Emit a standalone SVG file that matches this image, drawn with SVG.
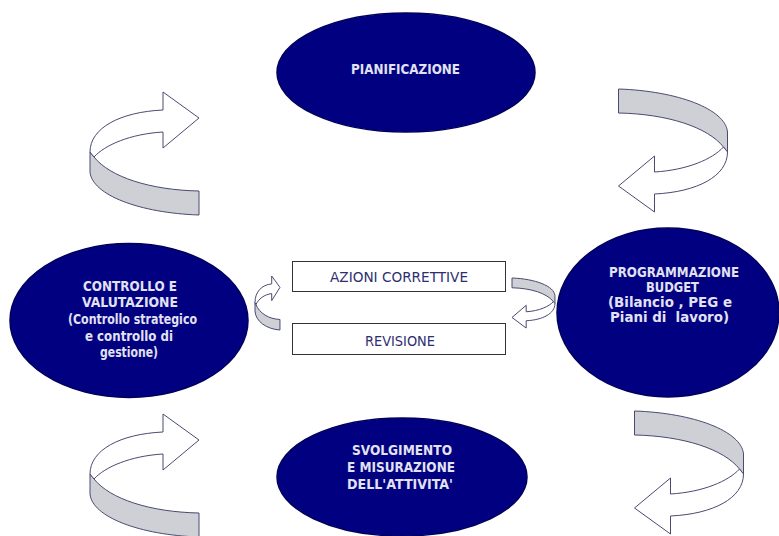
<svg xmlns="http://www.w3.org/2000/svg" xmlns:xlink="http://www.w3.org/1999/xlink" width="779" height="536" viewBox="0 0 779 536">
<style>
.ell{fill:#000080;stroke:#00005c;stroke-width:1.5}
.et{fill:#e2e2f2;font-family:"DejaVu Sans Condensed","DejaVu Sans",sans-serif;font-weight:bold;font-size:13.4px;text-anchor:middle;white-space:pre}
.box{fill:#ffffff;stroke:#333333;stroke-width:1}
.bt{fill:#2e2e70;font-family:"DejaVu Sans Condensed","DejaVu Sans",sans-serif;font-size:14px;text-anchor:middle}
.ag{fill:#cfcfd6;stroke:#4a4a70;stroke-width:1;vector-effect:non-scaling-stroke}
.aw{fill:#ffffff;stroke:#4a4a70;stroke-width:1;vector-effect:non-scaling-stroke}
</style>
<defs>
<g id="arrow">
<path class="ag" d="M90,152 L94,157 C110,177 150,190 199,191 L199,215 C140,213 92,195 90,172 Z"/>
<path class="aw" d="M90,152 C90,128 120,112 163,110 L163,92 L199,118 L163,148 L163,132 C130,134 105,145 94,157 Z"/>
</g>
</defs>
<rect width="779" height="536" fill="#ffffff"/>
<g id="connectors">
<use xlink:href="#arrow"/>
<use xlink:href="#arrow" transform="translate(817.5,304) rotate(180)"/>
<use xlink:href="#arrow" transform="translate(0,322)"/>
<use xlink:href="#arrow" transform="translate(833.5,626) rotate(180)"/>
<use xlink:href="#arrow" transform="translate(255,276) scale(0.229,0.439) translate(-90,-92)"/>
<use xlink:href="#arrow" transform="translate(512,278) scale(0.394,0.407) translate(199,215) rotate(180)"/>
</g>
<g id="pianificazione">
<ellipse class="ell" cx="406" cy="72.5" rx="129" ry="59.5"/>
<text class="et" x="405.5" y="74" textLength="109" lengthAdjust="spacingAndGlyphs">PIANIFICAZIONE</text>
</g>
<g id="controllo">
<ellipse class="ell" cx="129" cy="320.5" rx="119" ry="77"/>
<text class="et" x="130" y="291" textLength="94" lengthAdjust="spacingAndGlyphs">CONTROLLO E</text>
<text class="et" x="130" y="307" textLength="96" lengthAdjust="spacingAndGlyphs">VALUTAZIONE</text>
<text class="et" x="132.5" y="323.5" textLength="129" lengthAdjust="spacingAndGlyphs">(Controllo strategico</text>
<text class="et" x="129" y="340.5" textLength="88" lengthAdjust="spacingAndGlyphs">e controllo di</text>
<text class="et" x="129" y="357" textLength="58" lengthAdjust="spacingAndGlyphs">gestione)</text>
</g>
<g id="programmazione">
<ellipse class="ell" cx="668" cy="312.5" rx="111" ry="84.5"/>
<text class="et" x="674" y="277" textLength="130" lengthAdjust="spacingAndGlyphs">PROGRAMMAZIONE</text>
<text class="et" x="672.5" y="292" textLength="53" lengthAdjust="spacingAndGlyphs">BUDGET</text>
<text class="et" x="670" y="307" textLength="124" lengthAdjust="spacingAndGlyphs">(Bilancio , PEG e</text>
<text class="et" x="669.5" y="322" textLength="119" lengthAdjust="spacingAndGlyphs">Piani di  lavoro)</text>
</g>
<g id="svolgimento">
<ellipse class="ell" cx="402" cy="477" rx="125" ry="59"/>
<text class="et" x="402" y="455" textLength="100" lengthAdjust="spacingAndGlyphs">SVOLGIMENTO</text>
<text class="et" x="401" y="472" textLength="108" lengthAdjust="spacingAndGlyphs">E MISURAZIONE</text>
<text class="et" x="400" y="489" textLength="106" lengthAdjust="spacingAndGlyphs">DELL'ATTIVITA'</text>
</g>
<g id="azioni">
<rect class="box" x="292.5" y="261.5" width="213" height="30"/>
<text class="bt" x="399" y="282" textLength="138" lengthAdjust="spacingAndGlyphs">AZIONI CORRETTIVE</text>
</g>
<g id="revisione">
<rect class="box" x="292.5" y="323.5" width="213" height="31"/>
<text class="bt" x="400" y="346" textLength="70" lengthAdjust="spacingAndGlyphs">REVISIONE</text>
</g>
</svg>
